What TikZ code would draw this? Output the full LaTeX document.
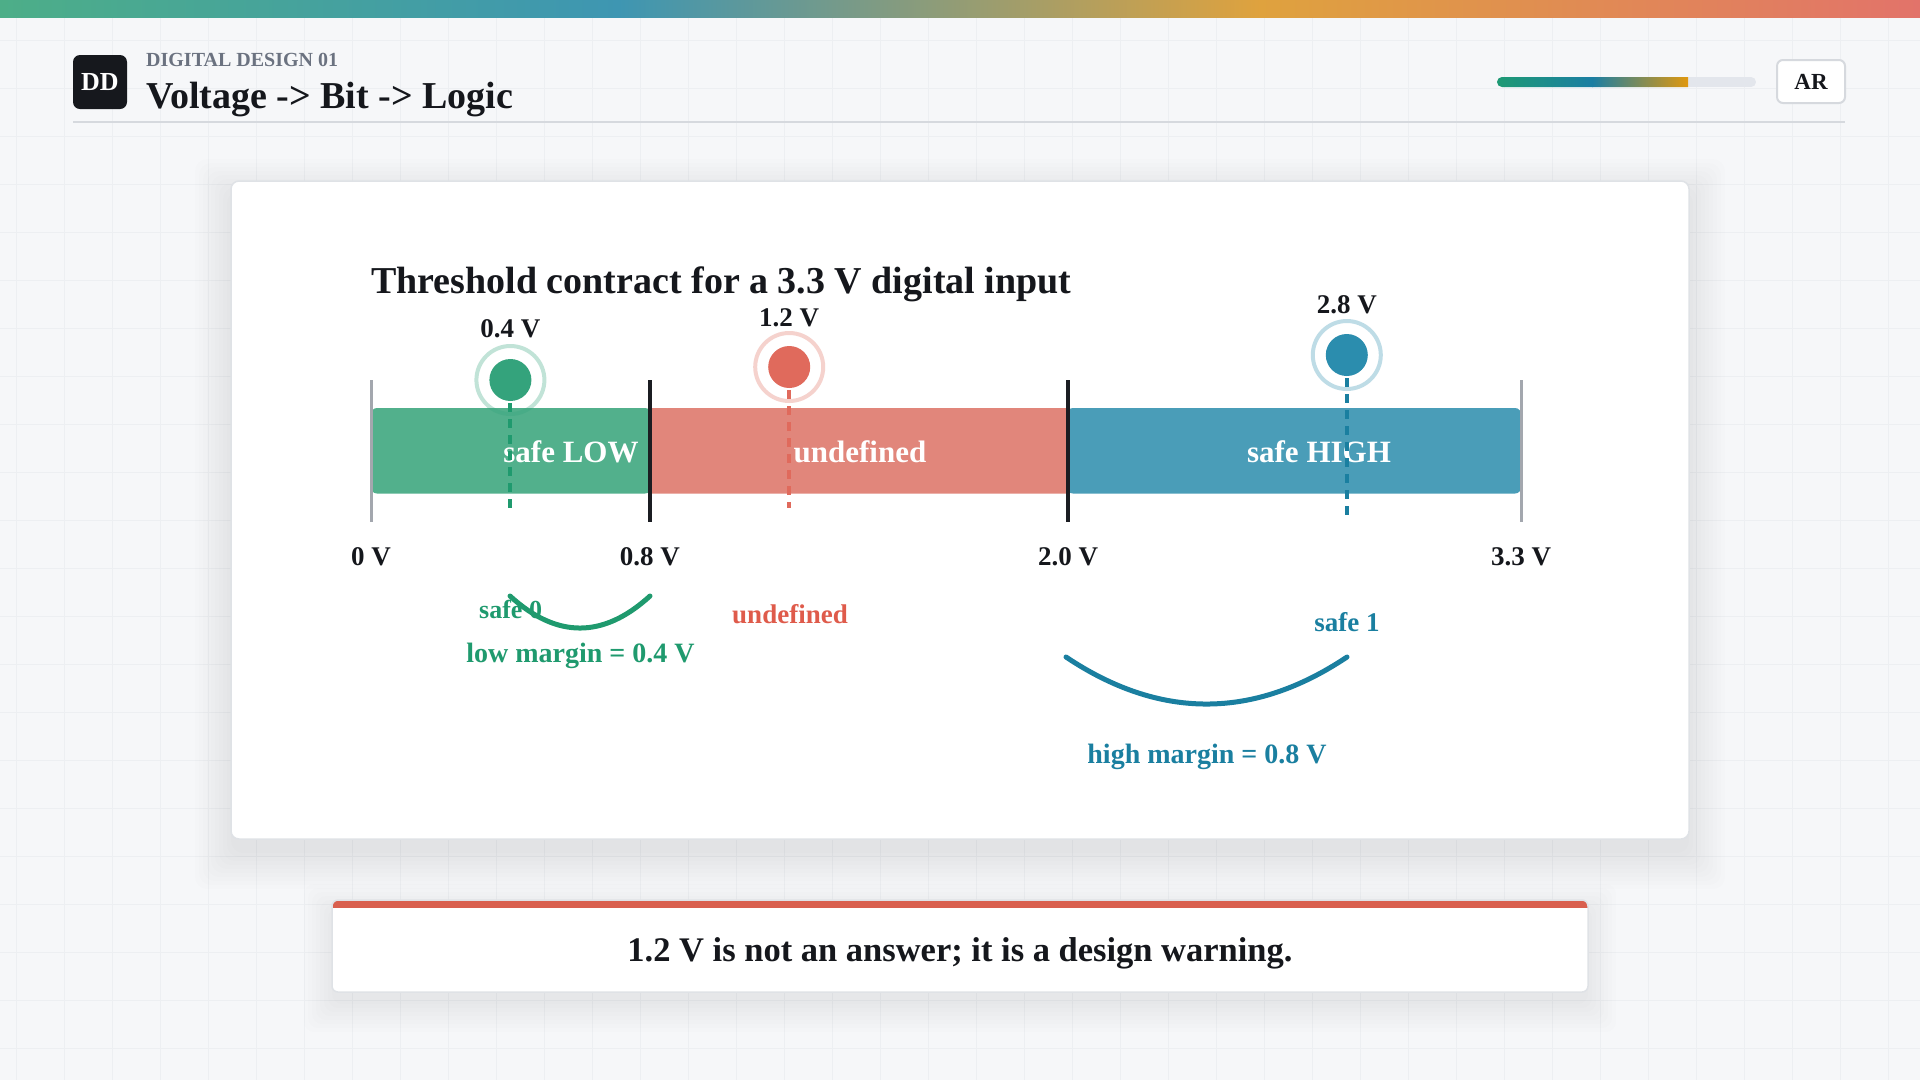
\documentclass[tikz,border=0pt]{standalone}
\usepackage{fontspec}
\setmainfont{Liberation Serif}
\usetikzlibrary{calc}
\newcommand{\fsz}[1]{\fontsize{#1}{#1}\selectfont\bfseries}
\definecolor{bgc}{HTML}{F6F7F9}
\definecolor{gridc}{HTML}{EDEFF2}
\definecolor{tg}{HTML}{4DAE88}
\definecolor{tb}{HTML}{3E96B2}
\definecolor{to}{HTML}{DFA23E}
\definecolor{tr}{HTML}{E2736A}
\definecolor{ddc}{HTML}{16181D}
\definecolor{graytxt}{HTML}{6B7280}
\definecolor{ink}{HTML}{15171C}
\definecolor{barbg}{HTML}{E3E6EC}
\definecolor{pg}{HTML}{1E9A74}
\definecolor{pb}{HTML}{1B7EA3}
\definecolor{po}{HTML}{E0980F}
\definecolor{boxline}{HTML}{D6D9DE}
\definecolor{cardline}{HTML}{DFE2E6}
\definecolor{bandg}{HTML}{52B08C}
\definecolor{bandr}{HTML}{E1867B}
\definecolor{bandb}{HTML}{4A9DB8}
\definecolor{tickgray}{HTML}{A3A7AE}
\definecolor{tickblack}{HTML}{1B1D22}
\definecolor{mg}{HTML}{34A37C}
\definecolor{mr}{HTML}{E06A5C}
\definecolor{mb}{HTML}{2B8DAE}
\definecolor{txg}{HTML}{1F9A6E}
\definecolor{txr}{HTML}{DF5B4B}
\definecolor{txb}{HTML}{1A7FA0}
\definecolor{calred}{HTML}{D95F4E}
\tikzset{
  lbl/.style={inner sep=0, anchor=base},
  bandlbl/.style={lbl, text=white, font=\fsz{31}},
  axlbl/.style={lbl, text=ink, font=\fsz{27}},
  dot/.style={circle, inner sep=0, minimum size=42},
  ring/.style={line width=4, opacity=0.3},
  drop/.style={line width=4, dash pattern=on 9 off 7},
  tickg/.style={tickgray, line width=3},
  tickb/.style={tickblack, line width=4},
  marc/.style={line width=5, line cap=round},
}
\begin{document}
\begin{tikzpicture}[x=1pt,y=-1pt]
\useasboundingbox (0,0) rectangle (1920,1080);
\fill[bgc] (0,0) rectangle (1920,1080);
\foreach \g in {16,64,...,1920} \draw[gridc, line width=1] (\g,0) -- (\g,1080);
\foreach \g in {40,88,...,1080} \draw[gridc, line width=1] (0,\g) -- (1920,\g);
% top gradient bar
\shade[left color=tg, right color=tb] (0,0) rectangle (620,17);
\shade[left color=tb, right color=to] (619,0) rectangle (1260,17);
\shade[left color=to, right color=tr] (1259,0) rectangle (1920,17);
% header
\fill[ddc, rounded corners=7] (73,55) rectangle (127,109);
\node[inner sep=0, text=white, font=\fsz{26}] (dd) at (100,82) {DD};
\node[inner sep=0, anchor=base west, text=graytxt, font=\fsz{20}] (kicker) at (146,66.5) {DIGITAL DESIGN 01};
\node[inner sep=0, anchor=base west, text=ink, font=\fsz{38}] (title) at (146,108) {Voltage -> Bit -> Logic};
\draw[boxline, line width=2] (73,122) -- (1845,122);
% progress bar
\begin{scope}
\clip[rounded corners=5] (1497,77) rectangle (1756,87);
\fill[barbg] (1497,77) rectangle (1756,87);
\shade[left color=pg, right color=pb] (1497,77) rectangle (1593,87);
\shade[left color=pb, right color=po] (1592,77) rectangle (1688,87);
\end{scope}
\draw[boxline, line width=2, fill=white, rounded corners=6] (1777,60) rectangle (1845,103);
\node[inner sep=0, text=ink, font=\fsz{23}] (ar) at (1811,82) {AR};
% card shadow
\foreach \s in {0,4,...,36}
  \fill[black, opacity=0.007, rounded corners=12] (231-\s,181-\s+14) rectangle (1689+\s,839+\s+14);
\draw[cardline, line width=1.5, fill=white, rounded corners=8] (231,181) rectangle (1689,839);
\node[inner sep=0, anchor=base west, text=ink, font=\fsz{38}] (ctitle) at (371,293) {Threshold contract for a 3.3 V digital input};
% bands
\fill[bandg, rounded corners=6] (371,408) rectangle (651,493.5);
\fill[bandr, rounded corners=2] (649,408) rectangle (1069,493.5);
\fill[bandb, rounded corners=6] (1067,408) rectangle (1521,493.5);
\draw[tickg] (371,380) -- (371,522);
\draw[tickg] (1521,380) -- (1521,522);
\draw[tickb] (649.8,380) -- (649.8,522);
\draw[tickb] (1068,380) -- (1068,522);
\node[bandlbl] (lowl) at (571,462) {safe LOW};
\node[bandlbl] (undl) at (860,462) {undefined};
\node[bandlbl] (highl) at (1319,462) {safe HIGH};
% axis labels
\node[axlbl] (a0) at (371,565) {0 V};
\node[axlbl] (a08) at (649.8,565) {0.8 V};
\node[axlbl] (a20) at (1068,565) {2.0 V};
\node[axlbl] (a33) at (1521,565) {3.3 V};
% markers
\node[dot, fill=mg] (m04) at (510.4,380) {};
\node[dot, fill=mr] (m12) at (789.2,367) {};
\node[dot, fill=mb] (m28) at (1346.8,355) {};
\draw[ring, mg] (m04.center) circle (34);
\draw[ring, mr] (m12.center) circle (34);
\draw[ring, mb] (m28.center) circle (34);
\coordinate (e04) at (510.4,515);
\coordinate (e12) at (789.2,508);
\coordinate (e28) at (1346.8,515);
\draw[drop, txg] ([yshift=-2]m04.south) -- (e04);
\draw[drop, mr] ([yshift=-2]m12.south) -- (e12);
\draw[drop, txb] ([yshift=-2]m28.south) -- (e28);
\node[axlbl] (l04) at (510.4,337) {0.4 V};
\node[axlbl] (l12) at (789.2,326) {1.2 V};
\node[axlbl] (l28) at (1346.8,313) {2.8 V};
% lower annotations
\node[lbl, text=txg, font=\fsz{26}] (safe0) at (510.6,618) {safe 0};
\node[lbl, text=txg, font=\fsz{28}] (lowm) at (580.5,662) {low margin = 0.4 V};
\node[lbl, text=txr, font=\fsz{27}] (undef2) at (790,623) {undefined};
\node[lbl, text=txb, font=\fsz{27}] (safe1) at (1347,631) {safe 1};
\node[lbl, text=txb, font=\fsz{28}] (highm) at (1207,763) {high margin = 0.8 V};
\coordinate (ga) at (510,596);
\coordinate (gb) at (650,596);
\coordinate (ba) at (1066,657);
\coordinate (bb) at (1347,657);
\draw[marc, txg] (ga) .. controls (556.7,638.7) and (603.3,638.7) .. (gb);
\draw[marc, txb] (ba) .. controls (1159.7,719.7) and (1253.3,719.7) .. (bb);
% callout
\foreach \s in {0,4,...,28}
  \fill[black, opacity=0.007, rounded corners=10] (332-\s,900-\s+12) rectangle (1588+\s,992+\s+12);
\begin{scope}
\clip[rounded corners=6] (332,900) rectangle (1588,992);
\fill[white] (332,900) rectangle (1588,992);
\fill[calred] (332,900) rectangle (1588,908);
\end{scope}
\draw[cardline, line width=1.5, rounded corners=6] (332,900) rectangle (1588,992);
\node[lbl, text=ink, font=\fsz{34.5}] (warn) at (960,961) {1.2 V is not an answer; it is a design warning.};
\end{tikzpicture}
\end{document}
